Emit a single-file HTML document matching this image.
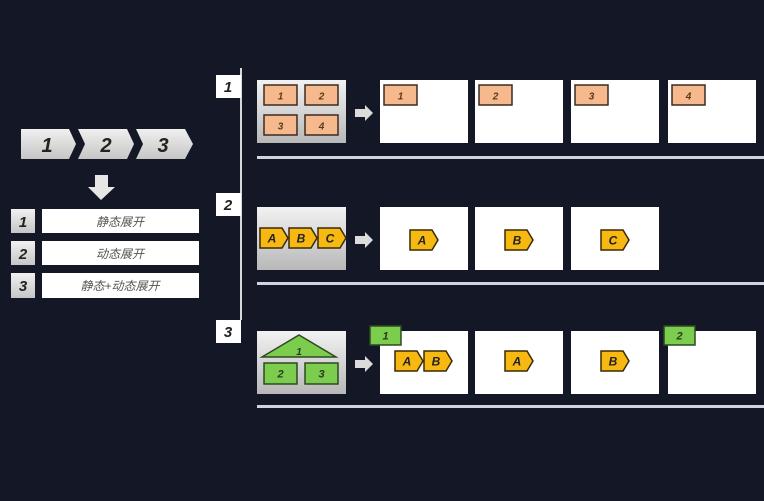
<!DOCTYPE html>
<html><head><meta charset="utf-8">
<style>
html,body{margin:0;padding:0;background:#141726;}
svg{display:block;}
text{font-family:"Liberation Sans","Noto Sans CJK SC",sans-serif;font-style:italic;font-weight:bold;}
text.lt{font-weight:normal;}
</style></head>
<body>
<svg id="s" width="764" height="501" viewBox="0 0 764 501" xmlns="http://www.w3.org/2000/svg">
<defs>
<linearGradient id="gg" x1="0" y1="0" x2="0" y2="1"><stop offset="0" stop-color="#f2f2f2"/><stop offset="1" stop-color="#b8b8b8"/></linearGradient>
<linearGradient id="cg" x1="0" y1="0" x2="0" y2="1"><stop offset="0" stop-color="#f0f0f0"/><stop offset="1" stop-color="#c6c6c6"/></linearGradient>
</defs>
<rect width="764" height="501" fill="#141726"/>
<g>
<polygon points="21,129 69,129 76,144 69,159 21,159" fill="url(#cg)"/>
<polygon points="78,129 127,129 134,144 127,159 78,159 85,144" fill="url(#cg)"/>
<polygon points="136,129 185,129 193,144 185,159 136,159 143,144" fill="url(#cg)"/>
<text x="47" y="152" font-size="20" fill="#222" text-anchor="middle">1</text>
<text x="106" y="152" font-size="20" fill="#222" text-anchor="middle">2</text>
<text x="163" y="152" font-size="20" fill="#222" text-anchor="middle">3</text>
</g>
<polygon points="95,175 108,175 108,187 115,187 101,200 88,187 95,187" fill="#e6e6e6"/>
<g>
<rect x="11" y="209" width="24" height="24" fill="url(#cg)"/><text x="23" y="227" font-size="15" fill="#222" text-anchor="middle">1</text>
<rect x="42" y="209" width="157" height="24" fill="#fff"/><text class="lt" style="font-weight:normal" x="120" y="226" font-size="12" fill="#555" text-anchor="middle">静态展开</text>
<rect x="11" y="241" width="24" height="24" fill="url(#cg)"/><text x="23" y="259" font-size="15" fill="#222" text-anchor="middle">2</text>
<rect x="42" y="241" width="157" height="24" fill="#fff"/><text class="lt" style="font-weight:normal" x="120" y="258" font-size="12" fill="#555" text-anchor="middle">动态展开</text>
<rect x="11" y="273" width="24" height="25" fill="url(#cg)"/><text x="23" y="291" font-size="15" fill="#222" text-anchor="middle">3</text>
<rect x="42" y="273" width="157" height="25" fill="#fff"/><text class="lt" style="font-weight:normal" x="120" y="290" font-size="12" fill="#555" text-anchor="middle">静态+动态展开</text>
</g>
<rect x="240" y="68" width="2" height="252" fill="#d8d8d8"/>
<g id="rows"></g>
</svg>
<script>
const rowYs = [80, 207, 331];
const rowLabels = ["1", "2", "3"];
const labelYs = [75, 193, 320];
const lineYs = [156, 282, 405];
const boxXs = [380, 475, 571, 668];
const tag1 = ["1", "2", "3", "4"];
const letters = ["A", "B", "C"];
const NS = "http://www.w3.org/2000/svg";
const root = document.getElementById("rows");
function mk(tag, attrs, parent, txt) {
  const e = document.createElementNS(NS, tag);
  for (const k in attrs) e.setAttribute(k, attrs[k]);
  if (txt !== undefined) e.textContent = txt;
  (parent || root).appendChild(e);
  return e;
}
function orange(x, y, t, p) {
  const g = mk("g", {}, p);
  
  
  mk("rect", {x: x, y: y, width: 33, height: 20, fill: "#f6b98d", stroke: "#3a2a20", "stroke-width": 1.5}, g);
  mk("text", {x: x + 16.5, y: y + 14.5, "font-size": 10, fill: "#5a3a20", "text-anchor": "middle"}, g, t);
}
function green(x, y, w, h, t, p) {
  const g = mk("g", {}, p);
  
  
  mk("rect", {x: x, y: y, width: w, height: h, fill: "#7ccc4e", stroke: "#2d4a20", "stroke-width": 1.5}, g);
  mk("text", {x: x + w / 2, y: y + h / 2 + 4, "font-size": 11, fill: "#2a3a20", "text-anchor": "middle"}, g, t);
}
function penta(x, y, t, p) {
  const w = 28, h = 20;
  const g = mk("g", {}, p);
  
  
  mk("polygon", {points: `${x},${y} ${x+w-6},${y} ${x+w},${y+h/2} ${x+w-6},${y+h} ${x},${y+h}`, fill: "#f7b812", stroke: "#3a2a05", "stroke-width": 1.5}, g);
  mk("text", {x: x + w / 2 - 2, y: y + 14.5, "font-size": 12, fill: "#222", "text-anchor": "middle"}, g, t);
}
function arrow(y, p) {
  const a = mk("polygon", {points: `355,${y-4} 365,${y-4} 365,${y-8} 373,${y} 365,${y+8} 365,${y+4} 355,${y+4}`, fill: "#dcdcdc"}, p);
  
  
}
rowYs.forEach((y, r) => {
  const g = mk("g", {});
  
  
  const lb = mk("rect", {x: 216, y: labelYs[r], width: 25, height: 23, fill: "#fff"}, g);
  
  
  mk("text", {x: 228, y: labelYs[r] + 17, "font-size": 15, fill: "#222", "text-anchor": "middle"}, g, rowLabels[r]);
  const src = mk("rect", {x: 257, y: y, width: 89, height: 63, fill: "url(#gg)"}, g);
  
  
  arrow(y + 33, g);
  const n = r === 1 ? 3 : 4;
  for (let i = 0; i < n; i++) {
    const b = mk("rect", {x: boxXs[i], y: y, width: 88, height: 63, fill: "#fff"}, g);
    
    
  }
  const ln = mk("rect", {x: 257, y: lineYs[r], width: 507, height: 3, fill: "#d0d4dc"}, g);
  
  
  if (r === 0) {
    orange(264, 85, tag1[0], g); orange(305, 85, tag1[1], g);
    orange(264, 115, tag1[2], g); orange(305, 115, tag1[3], g);
    boxXs.forEach((bx, i) => orange(bx + 4, 85, tag1[i], g));
  } else if (r === 1) {
    letters.forEach((t, i) => penta(260 + i * 29, y + 21, t, g));
    letters.forEach((t, i) => penta(boxXs[i] + 30, y + 23, t, g));
  } else {
    const tri = mk("polygon", {points: "262,357 299,335 336,357", fill: "#7ccc4e", stroke: "#2d4a20", "stroke-width": 1.5}, g);
    
    
    mk("text", {x: 299, y: 355, "font-size": 10, fill: "#2a3a20", "text-anchor": "middle"}, g, "1");
    green(264, 363, 33, 21, "2", g);
    green(305, 363, 33, 21, "3", g);
    penta(395, y + 20, letters[0], g);
    penta(424, y + 20, letters[1], g);
    penta(boxXs[1] + 30, y + 20, letters[0], g);
    penta(boxXs[2] + 30, y + 20, letters[1], g);
    green(370, 326, 31, 19, "1", g);
    green(664, 326, 31, 19, "2", g);
  }
});
</script>
</body></html>
